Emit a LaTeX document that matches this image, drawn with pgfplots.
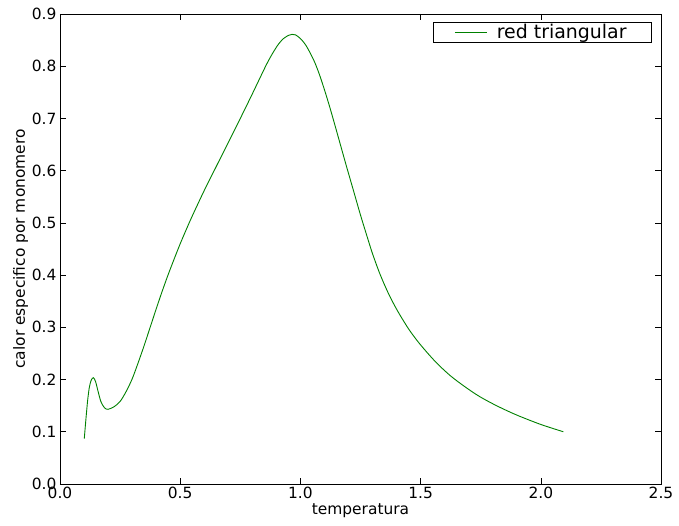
\documentclass[border=0pt]{standalone}
\usepackage{fontspec}
\setmainfont{DejaVu Sans}
\usepackage{pgfplots}
\pgfplotsset{compat=1.18}
\definecolor{mplgreen}{rgb}{0,0.5,0}
\begin{document}
\begin{tikzpicture}
\begin{axis}[
  scale only axis,
  width=601bp, height=470bp,
  xmin=0, xmax=2.5, ymin=0, ymax=0.9,
  xtick={0,0.5,1,1.5,2,2.5},
  ytick={0,0.1,0.2,0.3,0.4,0.5,0.6,0.7,0.8,0.9},
  xticklabel style={/pgf/number format/.cd,fixed,fixed zerofill,precision=1},
  yticklabel style={/pgf/number format/.cd,fixed,fixed zerofill,precision=1},
  /pgf/number format/assume math mode=true,
  tick align=inside,
  major tick length=6bp,
  tick style={black, line width=0.6bp},
  axis line style={line width=0.8bp},
  ticklabel style={font=\fontsize{15.5}{18}\selectfont},
  label style={font=\fontsize{15.5}{18}\selectfont},
  xlabel={temperatura},
  ylabel={calor especifico por monomero},
  xlabel style={yshift=2bp},
  ylabel style={yshift=-3bp},
  legend style={at={(1,1)}, anchor=north east, xshift=-9bp, yshift=-8bp,
    font=\fontsize{19}{21}\selectfont, draw=black, line width=0.8bp,
    inner xsep=12bp, inner ysep=0bp, row sep=0bp},
  legend cell align=left,
  legend image code/.code={\path[draw=none] (-9bp,0bp) -- (40bp,0bp);\draw[#1] (0bp,0bp) -- (32bp,0bp);},
]
\addplot[color=mplgreen, line width=0.9bp, smooth] coordinates {
(0.101,0.087)
(0.108,0.125)
(0.115,0.160)
(0.122,0.185)
(0.130,0.199)
(0.139,0.2035)
(0.148,0.196)
(0.158,0.178)
(0.170,0.158)
(0.185,0.146)
(0.200,0.143)
(0.225,0.148)
(0.250,0.158)
(0.275,0.177)
(0.300,0.201)
(0.325,0.232)
(0.350,0.265)
(0.375,0.300)
(0.400,0.335)
(0.425,0.369)
(0.450,0.401)
(0.475,0.431)
(0.500,0.460)
(0.525,0.487)
(0.550,0.513)
(0.600,0.562)
(0.650,0.608)
(0.700,0.654)
(0.750,0.700)
(0.800,0.747)
(0.850,0.795)
(0.870,0.813)
(0.890,0.829)
(0.910,0.843)
(0.930,0.853)
(0.950,0.859)
(0.965,0.861)
(0.980,0.860)
(1.000,0.853)
(1.020,0.842)
(1.040,0.826)
(1.060,0.807)
(1.080,0.783)
(1.100,0.755)
(1.120,0.725)
(1.140,0.693)
(1.165,0.652)
(1.190,0.611)
(1.220,0.563)
(1.250,0.515)
(1.276,0.476)
(1.300,0.441)
(1.331,0.402)
(1.365,0.366)
(1.401,0.334)
(1.450,0.297)
(1.497,0.268)
(1.560,0.235)
(1.622,0.208)
(1.685,0.186)
(1.747,0.167)
(1.820,0.149)
(1.900,0.132)
(2.000,0.114)
(2.094,0.100)
};
\addlegendentry{red triangular\rule{11bp}{0bp}}
\end{axis}
\pgfresetboundingbox
\path (current axis.south west) ++(-60bp,-42bp) coordinate (bl);
\path (current axis.north east) ++(18bp,14bp) coordinate (tr);
\path[use as bounding box] (bl) rectangle (tr);
\end{tikzpicture}
\end{document}
